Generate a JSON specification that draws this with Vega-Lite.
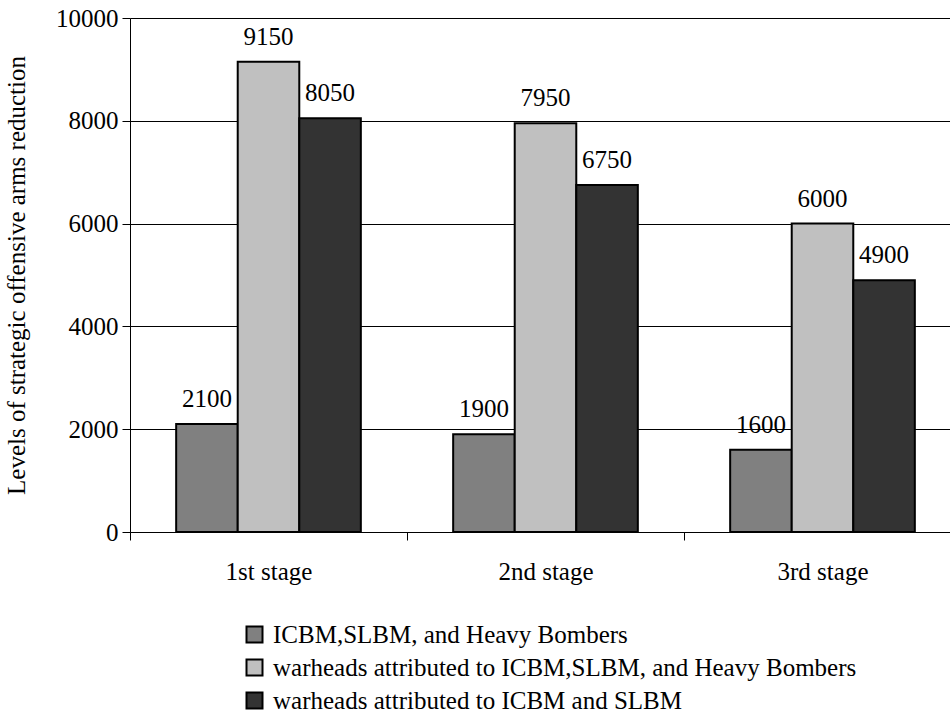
{
  "$schema": "https://vega.github.io/schema/vega-lite/v6.json",
  "width": 820,
  "height": 514,
  "autosize": "none",
  "padding": {"left": 130, "top": 18, "right": 0, "bottom": 194},
  "config": {
    "view": {"stroke": null},
    "font": "Liberation Serif",
    "axis": {
      "labelFont": "Liberation Serif",
      "titleFont": "Liberation Serif",
      "labelFontSize": 25,
      "titleFontSize": 25,
      "titleFontWeight": "normal",
      "labelColor": "black",
      "titleColor": "black",
      "domainColor": "black",
      "tickColor": "black",
      "domainWidth": 1,
      "tickWidth": 1
    },
    "legend": {"labelFont": "Liberation Serif"},
    "text": {"font": "Liberation Serif"}
  },
  "data": {
    "values": [
      {"stage": "1st stage", "series": "ICBM,SLBM, and Heavy Bombers", "value": 2100},
      {"stage": "1st stage", "series": "warheads attributed to ICBM,SLBM, and Heavy Bombers", "value": 9150},
      {"stage": "1st stage", "series": "warheads attributed to ICBM and SLBM", "value": 8050},
      {"stage": "2nd stage", "series": "ICBM,SLBM, and Heavy Bombers", "value": 1900},
      {"stage": "2nd stage", "series": "warheads attributed to ICBM,SLBM, and Heavy Bombers", "value": 7950},
      {"stage": "2nd stage", "series": "warheads attributed to ICBM and SLBM", "value": 6750},
      {"stage": "3rd stage", "series": "ICBM,SLBM, and Heavy Bombers", "value": 1600},
      {"stage": "3rd stage", "series": "warheads attributed to ICBM,SLBM, and Heavy Bombers", "value": 6000},
      {"stage": "3rd stage", "series": "warheads attributed to ICBM and SLBM", "value": 4900}
    ]
  },
  "encoding": {
    "x": {
      "field": "stage",
      "type": "nominal",
      "sort": null,
      "scale": {"range": [0, 831], "paddingInner": 0, "paddingOuter": 0},
      "axis": {
        "title": null,
        "labelAngle": 0,
        "tickBand": "extent",
        "tickSize": 8,
        "labelPadding": 19,
        "grid": false
      }
    },
    "xOffset": {
      "field": "series",
      "type": "nominal",
      "sort": null,
      "scale": {"paddingInner": 0, "paddingOuter": 0.75}
    },
    "y": {
      "field": "value",
      "type": "quantitative",
      "scale": {"domain": [0, 10000], "nice": false},
      "axis": {
        "values": [0, 2000, 4000, 6000, 8000, 10000],
        "title": "Levels of strategic offensive arms reduction",
        "grid": true,
        "gridColor": "black",
        "gridWidth": 1,
        "tickSize": 8,
        "labelPadding": 4,
        "titlePadding": 26,
        "format": "d"
      }
    }
  },
  "layer": [
    {
      "mark": {"type": "bar", "stroke": "black", "strokeWidth": 2},
      "encoding": {
        "color": {
          "field": "series",
          "type": "nominal",
          "sort": null,
          "scale": {
            "domain": [
              "ICBM,SLBM, and Heavy Bombers",
              "warheads attributed to ICBM,SLBM, and Heavy Bombers",
              "warheads attributed to ICBM and SLBM"
            ],
            "range": ["#808080", "#c0c0c0", "#333333"]
          },
          "legend": {
            "orient": "none",
            "legendX": 112,
            "legendY": 604,
            "title": null,
            "direction": "vertical",
            "symbolType": "square",
            "symbolSize": 256,
            "symbolStrokeColor": "black",
            "symbolStrokeWidth": 2,
            "labelFontSize": 25,
            "labelColor": "black",
            "rowPadding": 7,
            "labelOffset": 6,
            "labelLimit": 0
          }
        }
      }
    },
    {
      "mark": {
        "type": "text",
        "dy": -17,
        "baseline": "alphabetic",
        "align": "center",
        "fontSize": 25,
        "color": "black"
      },
      "encoding": {
        "text": {"field": "value", "type": "quantitative", "format": "d"}
      }
    }
  ]
}
